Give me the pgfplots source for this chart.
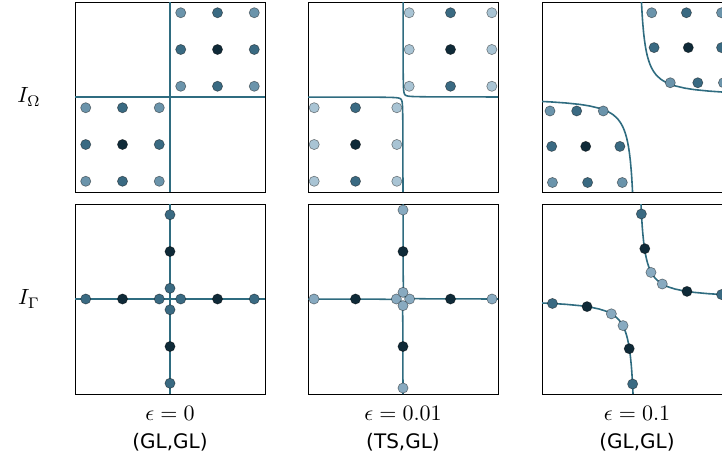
\documentclass[border=0pt]{standalone}
\usepackage{graphicx}
\usepackage{pgfplots}
\pgfplotsset{compat=1.18}
\usepackage{pgfplotstable}
\usepackage{fontspec}
\setmainfont{DejaVu Sans}

\definecolor{cLa}{HTML}{6B94AB}
\definecolor{cLb}{HTML}{A9C4D4}
\definecolor{cLc}{HTML}{88AAC0}
\definecolor{cM}{HTML}{3A6A82}
\definecolor{cD}{HTML}{0F2A38}
\definecolor{cLine}{HTML}{2F6C80}

% hyperbola-like boundary curves (upper-right branch)
\pgfplotstableread{
x y
0.047 1.0
0.05 0.94
0.055 0.855
0.06 0.783
0.07 0.671
0.08 0.5875
0.09 0.522
0.1 0.47
0.11 0.427
0.12 0.392
0.135 0.348
0.15 0.313
0.165 0.285
0.18 0.261
0.2 0.235
0.22 0.214
0.25 0.188
0.27 0.174
0.3 0.157
0.33 0.142
0.4 0.1175
0.5 0.094
0.6 0.078
0.75 0.0627
0.9 0.0522
1.0 0.047
}\curveTop
\pgfplotstableread{
x y
0.042 1.0
0.045 0.933
0.05 0.84
0.055 0.764
0.06 0.7
0.07 0.6
0.08 0.525
0.09 0.467
0.1 0.42
0.11 0.382
0.12 0.35
0.135 0.311
0.15 0.28
0.165 0.255
0.18 0.233
0.2 0.21
0.22 0.191
0.25 0.168
0.27 0.156
0.3 0.14
0.33 0.127
0.4 0.105
0.5 0.084
0.6 0.07
0.75 0.056
0.9 0.0467
1.0 0.042
}\curveBot
\pgfplotstableread{
x y
0.0005 1.0
0.0006 0.833
0.001 0.5
0.002 0.25
0.004 0.125
0.007 0.0714
0.01 0.05
0.013 0.0385
0.016 0.03125
0.019 0.0263
0.022 0.0227
0.025 0.02
0.0263 0.019
0.03125 0.016
0.0385 0.013
0.05 0.01
0.0714 0.007
0.125 0.004
0.25 0.002
0.5 0.001
0.833 0.0006
1.0 0.0005
}\curveSmall

\pgfplotsset{
  panel/.style={width=190pt,height=190pt,scale only axis,
    xmin=-1,xmax=1,ymin=-1,ymax=1,ticks=none,
    axis line style={black,line width=0.8pt},
    anchor=north west},
  crv/.style={color=cLine,line width=1.6pt,line join=round,no marks},
}
\newcommand{\pts}[2]{\addplot[only marks,mark=*,mark size=5.1pt,
  mark options={fill=#1,draw=black,draw opacity=0.45,line width=0.6pt}] coordinates {#2};}
\newcommand{\branches}[1]{%
  \addplot[crv] table[x=x,y=y] {#1};
  \addplot[crv] table[x expr=-\thisrow{x},y expr=-\thisrow{y}] {#1};}
\newcommand{\bigmath}[1]{\scalebox{2.2}{$#1$}}

\begin{document}
\begin{tikzpicture}
\useasboundingbox (0,0) rectangle (722pt,-456pt);
\clip (0,0) rectangle (722pt,-456pt);

% ---------- row 1 : I_Omega ----------
\begin{axis}[panel,at={(75pt,-2pt)}]
\addplot[crv] coordinates {(0,-1) (0,1)};
\addplot[crv] coordinates {(-1,0) (1,0)};
\pts{cLa}{(0.113,0.113) (0.887,0.113) (0.113,0.887) (0.887,0.887)
 (-0.113,-0.113) (-0.887,-0.113) (-0.113,-0.887) (-0.887,-0.887)}
\pts{cM}{(0.5,0.113) (0.113,0.5) (0.887,0.5) (0.5,0.887)
 (-0.5,-0.113) (-0.113,-0.5) (-0.887,-0.5) (-0.5,-0.887)}
\pts{cD}{(0.5,0.5) (-0.5,-0.5)}
\end{axis}

\begin{axis}[panel,at={(308pt,-2pt)}]
\branches{\curveSmall}
\pts{cLb}{(0.065,0.113) (0.065,0.5) (0.065,0.887) (0.935,0.113) (0.935,0.5) (0.935,0.887)
 (-0.065,-0.113) (-0.065,-0.5) (-0.065,-0.887) (-0.935,-0.113) (-0.935,-0.5) (-0.935,-0.887)}
\pts{cM}{(0.5,0.113) (0.5,0.887) (-0.5,-0.113) (-0.5,-0.887)}
\pts{cD}{(0.5,0.5) (-0.5,-0.5)}
\end{axis}

\begin{axis}[panel,at={(542pt,-2pt)}]
\branches{\curveTop}
\pts{cLa}{(0.155,0.887) (0.89,0.887) (0.35,0.15) (0.91,0.15)
 (-0.916,-0.147) (-0.355,-0.147) (-0.89,-0.9) (-0.155,-0.9)}
\pts{cM}{(0.52,0.887) (0.18,0.52) (0.89,0.52) (0.64,0.15)
 (-0.635,-0.147) (-0.898,-0.52) (-0.18,-0.52) (-0.52,-0.9)}
\pts{cD}{(0.54,0.52) (-0.54,-0.52)}
\end{axis}

% ---------- row 2 : I_Gamma ----------
\begin{axis}[panel,at={(75pt,-204pt)}]
\addplot[crv] coordinates {(0,-1) (0,1)};
\addplot[crv] coordinates {(-1,0) (1,0)};
\pts{cM}{(0.113,0) (0.887,0) (-0.113,0) (-0.887,0) (0,0.113) (0,0.887) (0,-0.113) (0,-0.887)}
\pts{cD}{(0.5,0) (-0.5,0) (0,0.5) (0,-0.5)}
\end{axis}

\begin{axis}[panel,at={(308pt,-204pt)}]
\branches{\curveSmall}
\pts{cLc}{(0.07,0) (0.937,0) (-0.07,0) (-0.937,0) (0,0.07) (0,0.937) (0,-0.07) (0,-0.937)}
\pts{cD}{(0.5,0) (-0.5,0) (0,0.5) (0,-0.5)}
\end{axis}

\begin{axis}[panel,at={(542pt,-204pt)}]
\branches{\curveBot}
\pts{cM}{(0.046,0.895) (0.89,0.047) (-0.89,-0.047) (-0.046,-0.895)}
\pts{cD}{(0.082,0.53) (0.526,0.08) (-0.526,-0.08) (-0.082,-0.523)}
\pts{cLc}{(0.147,0.28) (0.266,0.158) (-0.27,-0.156) (-0.147,-0.28)}
\end{axis}

% ---------- labels ----------
\node at (29pt,-97pt) {\bigmath{I_\Omega}};
\node at (29pt,-299pt) {\bigmath{I_\Gamma}};
\foreach \cx/\eps/\q in {170/0/{(GL,GL)},403/0.01/{(TS,GL)},637/0.1/{(GL,GL)}}{
  \node at (\cx pt,-413pt) {\bigmath{\epsilon = \eps}};
  \node[font=\fontsize{20}{24}\selectfont] at (\cx pt,-442pt) {\q};
}
\end{tikzpicture}
\end{document}
